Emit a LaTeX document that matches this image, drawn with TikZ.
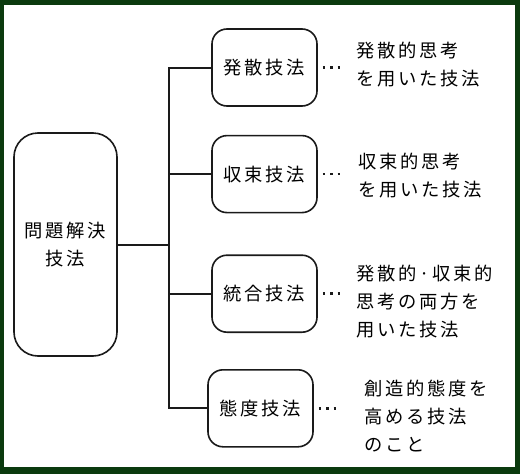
\documentclass[tikz,border=0pt]{standalone}
\usepackage{fontspec}
\usepackage{xcolor}
\newfontfamily\jpfont[LetterSpace=15]{Noto Sans CJK JP}
\usetikzlibrary{positioning}
\definecolor{frame}{HTML}{0B3A0E}
\definecolor{ink}{HTML}{1A1A1A}

\begin{document}
\begin{tikzpicture}[
    x=1pt, y=-1pt,
    font=\jpfont\fontsize{18.3}{28}\selectfont,
    method/.style={
        rectangle,
        rounded corners=15pt,
        draw=ink,
        line width=1.6pt,
        align=center,
        minimum width=105pt,
        minimum height=77pt,
        inner sep=0pt
    },
    topic/.style={
        rectangle,
        rounded corners=24pt,
        draw=ink,
        line width=1.6pt,
        align=center,
        minimum width=103pt,
        minimum height=223pt,
        inner sep=0pt
    },
    desc/.style={align=left, inner sep=0pt},
    conn/.style={line width=2pt, draw=ink},
    dots/.style={line width=2.6pt, draw=ink, dash pattern=on 2.4pt off 5pt, shorten <=5pt}
]

% frame
\fill[frame] (0,0) rectangle (520,474);
\fill[white] (4,5) rectangle (515,467);

\node[topic] (main) at (65.5,244.5) {問題解決\\技法};
\node[method] (divergent) at (264.5,67.5) {発散技法};
\node[method, below=28pt of divergent] (convergent) {収束技法};
\node[method, below=41pt of convergent] (integrated) {統合技法};
\node[method, below=36pt of integrated, xshift=-4pt] (attitude) {態度技法};

\node[desc, right=38pt of divergent, yshift=3pt] (divtext) {発散的思考\\を用いた技法};
\node[desc, right=40pt of convergent, yshift=-1pt] (context) {収束的思考\\を用いた技法};
\node[desc, right=38pt of integrated, yshift=-8pt] (inttext) {発散的·収束的\\思考の両方を\\用いた技法};
\node[desc, right=50pt of attitude, yshift=-8pt] (atttext) {創造的態度を\\高める技法\\のこと};

\coordinate[right=51pt of main.east] (hub);

\draw[conn] (main.east) -- (hub);
\draw[conn] (hub) |- (divergent.west);
\draw[conn] (hub) |- (convergent.west);
\draw[conn] (hub) |- (integrated.west);
\draw[conn] (hub) |- (attitude.west);

\draw[dots, shorten >=14pt] (divergent.east) -- (divergent.east -| divtext.west);
\draw[dots, shorten >=16pt] (convergent.east) -- (convergent.east -| context.west);
\draw[dots, shorten >=14pt] (integrated.east) -- (integrated.east -| inttext.west);
\draw[dots, shorten >=24pt] (attitude.east) -- (attitude.east -| atttext.west);

\end{tikzpicture}
\end{document}
